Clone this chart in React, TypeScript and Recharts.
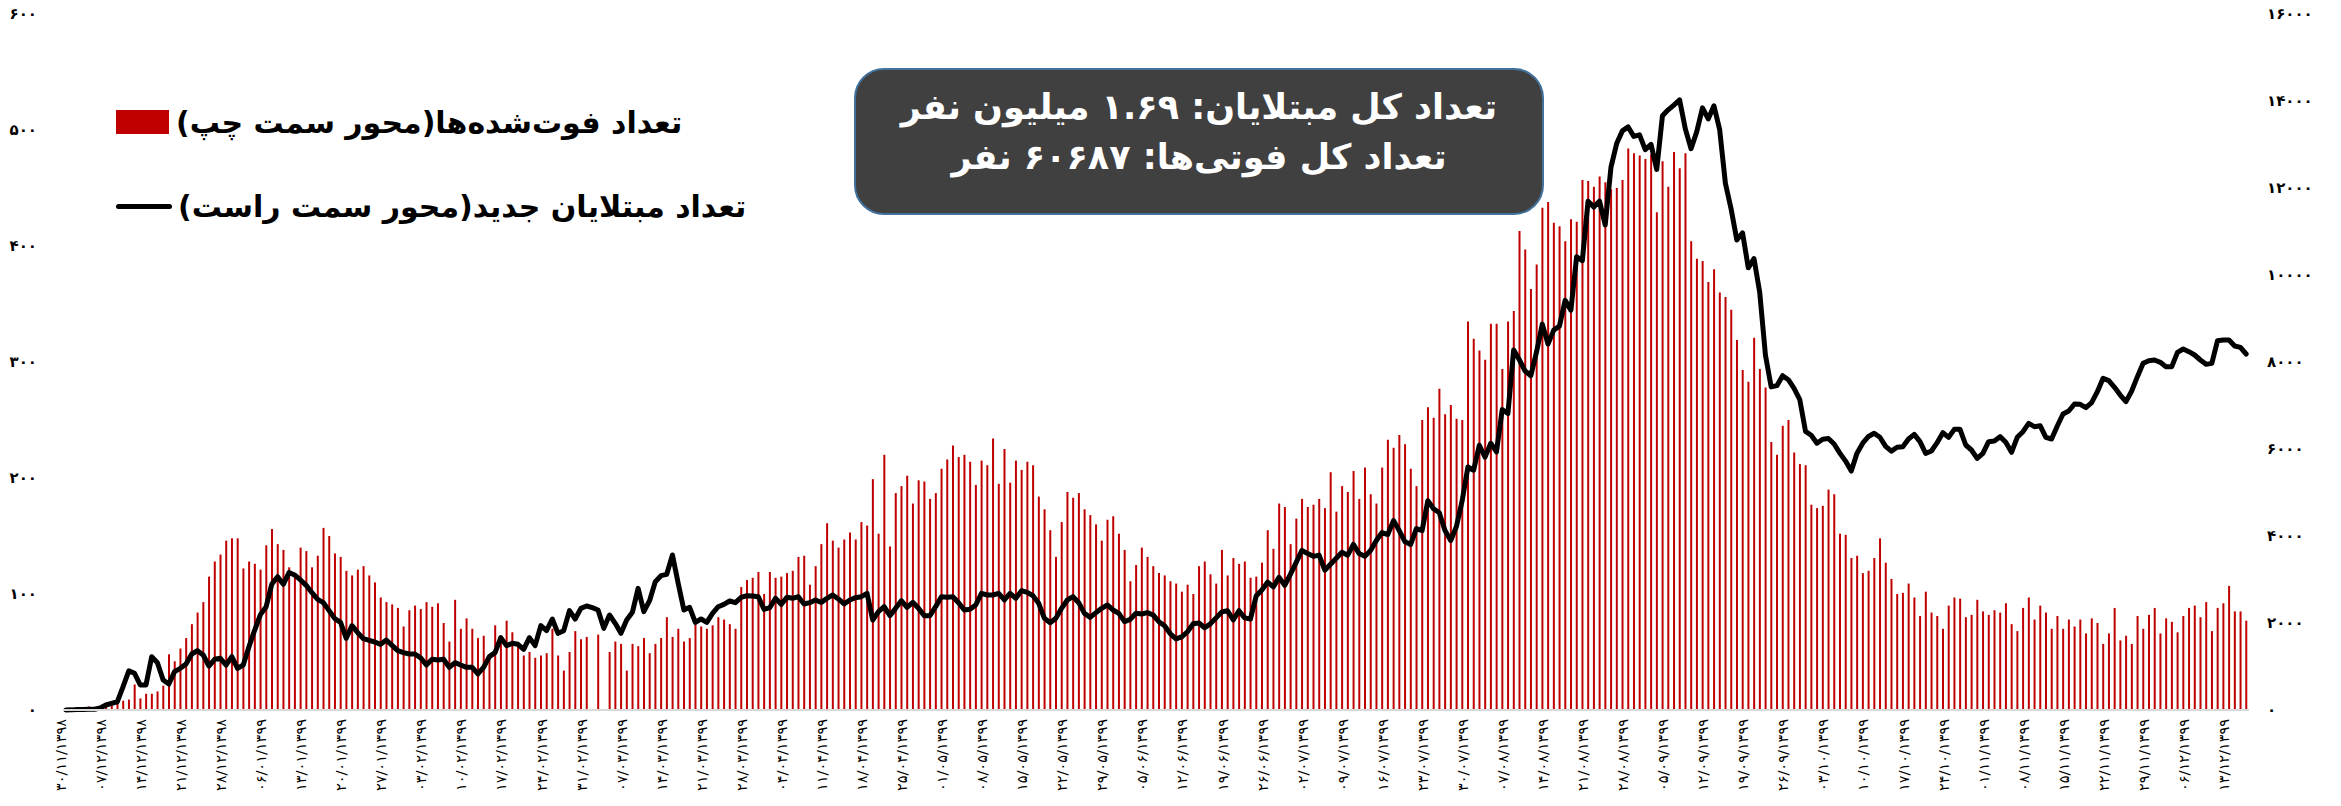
import React from 'react';
import {
  ComposedChart,
  Bar,
  Line,
  XAxis,
  YAxis,
  Legend,
} from 'recharts';

// Daily deaths (left axis), one value per day from 30/11/1398
const deaths: number[] = [
  0, 0, 0, 0, 3, 2, 3, 3, 4, 6, 8, 9, 22, 10, 14, 14, 16, 21, 48, 42,
  53, 62, 74, 84, 93, 115, 128, 134, 146, 148, 148, 122, 128, 126, 121, 142, 156, 143, 138, 123,
  117, 140, 137, 123, 133, 157, 150, 135, 132, 120, 116, 121, 124, 116, 110, 97, 93, 91, 88, 72,
  86, 90, 87, 93, 89, 92, 75, 59, 95, 70, 79, 70, 62, 64, 48, 73, 60, 77, 67, 57,
  47, 50, 45, 47, 49, 70, 47, 34, 50, 68, 61, 63, 0, 65, 0, 50, 59, 57, 34, 57,
  55, 62, 49, 57, 62, 80, 63, 70, 59, 62, 75, 72, 70, 73, 80, 78, 74, 70, 106, 112,
  114, 119, 100, 119, 114, 115, 118, 120, 132, 133, 108, 124, 143, 161, 146, 140, 147, 153, 147, 162,
  159, 199, 152, 220, 141, 187, 193, 202, 178, 198, 197, 182, 187, 208, 216, 228, 218, 220, 214, 194,
  215, 211, 234, 195, 225, 196, 215, 207, 214, 211, 184, 173, 155, 132, 162, 188, 183, 187, 173, 168,
  160, 146, 164, 167, 152, 138, 111, 125, 140, 132, 124, 118, 116, 111, 109, 102, 108, 100, 124, 128,
  117, 109, 138, 116, 131, 126, 128, 114, 115, 127, 155, 139, 178, 175, 143, 165, 182, 175, 177, 182,
  174, 205, 171, 193, 188, 206, 182, 209, 186, 178, 209, 233, 226, 237, 229, 208, 193, 250, 261, 252,
  277, 255, 263, 251, 250, 335, 320, 310, 302, 333, 333, 294, 335, 344, 413, 397, 363, 384, 433, 438,
  420, 417, 404, 423, 421, 457, 456, 451, 460, 455, 449, 450, 457, 484, 480, 478, 475, 479, 429, 473,
  451, 481, 467, 480, 404, 389, 387, 369, 380, 360, 356, 345, 319, 293, 283, 321, 294, 278, 231, 220,
  245, 250, 222, 212, 211, 177, 174, 176, 190, 186, 152, 151, 131, 133, 118, 120, 131, 148, 127, 113,
  100, 101, 109, 97, 81, 102, 84, 81, 70, 90, 97, 96, 80, 82, 95, 85, 82, 86, 84, 92,
  74, 68, 88, 97, 78, 90, 84, 70, 81, 70, 78, 72, 78, 66, 79, 75, 57, 66, 88, 60,
  64, 57, 81, 70, 82, 88, 66, 79, 76, 67, 81, 88, 90, 80, 93, 68, 88, 92, 107, 85,
  85, 77,
];

// Daily new cases (right axis)
const cases: number[] = [
  2, 3, 13, 10, 15, 18, 45, 115, 153, 190, 536, 900, 843, 575, 575, 1226, 1088, 690, 598, 881,
  958, 1057, 1287, 1364, 1264, 1011, 1165, 1188, 1034, 1226, 958, 1034, 1456, 1839, 2192, 2375, 2897, 3065, 2889, 3157,
  3103, 2989, 2866, 2697, 2544, 2467, 2284, 2100, 2015, 1648, 1939, 1778, 1640, 1602, 1563, 1510, 1609, 1487, 1364, 1318,
  1287, 1287, 1200, 1034, 1165, 1149, 1165, 981, 1088, 1034, 981, 981, 828, 981, 1226, 1318, 1663, 1479, 1533, 1510,
  1395, 1663, 1479, 1939, 1824, 2092, 1762, 1824, 2284, 2092, 2337, 2391, 2352, 2299, 1877, 2184, 1992, 1762, 2069, 2245,
  2797, 2261, 2513, 2950, 3088, 3119, 3563, 2912, 2299, 2360, 2015, 2092, 2015, 2222, 2375, 2429, 2506, 2467, 2590, 2628,
  2621, 2605, 2314, 2352, 2567, 2429, 2590, 2567, 2605, 2437, 2467, 2529, 2475, 2567, 2644, 2552, 2437, 2529, 2582, 2605,
  2682, 2069, 2261, 2375, 2169, 2337, 2513, 2360, 2475, 2337, 2169, 2169, 2375, 2605, 2590, 2605, 2467, 2299, 2314, 2414,
  2682, 2644, 2644, 2682, 2529, 2682, 2567, 2743, 2705, 2628, 2452, 2107, 2008, 2107, 2337, 2529, 2605, 2467, 2222, 2130,
  2238, 2337, 2414, 2299, 2222, 2031, 2084, 2222, 2207, 2238, 2184, 2031, 1935, 1753, 1634, 1680, 1799, 1981, 2000, 1890,
  1981, 2118, 2255, 2282, 2072, 2282, 2118, 2091, 2620, 2757, 2939, 2830, 3049, 2866, 3122, 3395, 3669, 3596, 3532, 3560,
  3213, 3350, 3487, 3624, 3560, 3806, 3596, 3532, 3669, 3897, 4080, 4034, 4354, 4125, 3870, 3806, 4171, 4125, 4809, 4627,
  4536, 4125, 3897, 4217, 4809, 5585, 5512, 6087, 5813, 6133, 5932, 6908, 6817, 8277, 8049, 7793, 7684, 8231, 8870, 8414,
  8733, 8824, 9417, 9189, 10421, 10330, 11698, 11561, 11698, 11151, 12474, 13021, 13313, 13404, 13186, 13222, 12884, 13003, 12428, 13660,
  13797, 13906, 14025, 13359, 12903, 13295, 13842, 13587, 13888, 13341, 12109, 11516, 10804, 10968, 10165, 10375, 9600, 8158, 7428, 7456,
  7684, 7592, 7392, 7136, 6406, 6315, 6133, 6224, 6242, 6114, 5905, 5722, 5494, 5905, 6133, 6288, 6361, 6270, 6060, 5950,
  6041, 6054, 6230, 6337, 6169, 5900, 5954, 6146, 6375, 6268, 6452, 6452, 6092, 5977, 5785, 5900, 6169, 6184, 6284, 6153,
  5923, 6268, 6398, 6590, 6513, 6536, 6268, 6230, 6529, 6805, 6874, 7034, 7027, 6950, 7065, 7318, 7625, 7571, 7418, 7241,
  7088, 7333, 7663, 7969, 8031, 8046, 7992, 7893, 7893, 8222, 8299, 8238, 8161, 8046, 7946, 7969, 8490, 8506, 8506, 8368,
  8337, 8184,
];

// one label every 7 days
const tickLabels: string[] = [
  '۳۰/۱۱/۱۳۹۸', '۰۷/۱۲/۱۳۹۸', '۱۴/۱۲/۱۳۹۸', '۲۱/۱۲/۱۳۹۸', '۲۸/۱۲/۱۳۹۸',
  '۰۶/۰۱/۱۳۹۹', '۱۳/۰۱/۱۳۹۹', '۲۰/۰۱/۱۳۹۹', '۲۷/۰۱/۱۳۹۹', '۰۳/۰۲/۱۳۹۹',
  '۱۰/۰۲/۱۳۹۹', '۱۷/۰۲/۱۳۹۹', '۲۴/۰۲/۱۳۹۹', '۳۱/۰۲/۱۳۹۹', '۰۷/۰۳/۱۳۹۹',
  '۱۴/۰۳/۱۳۹۹', '۲۱/۰۳/۱۳۹۹', '۲۸/۰۳/۱۳۹۹', '۰۴/۰۴/۱۳۹۹', '۱۱/۰۴/۱۳۹۹',
  '۱۸/۰۴/۱۳۹۹', '۲۵/۰۴/۱۳۹۹', '۰۱/۰۵/۱۳۹۹', '۰۸/۰۵/۱۳۹۹', '۱۵/۰۵/۱۳۹۹',
  '۲۲/۰۵/۱۳۹۹', '۲۹/۰۵/۱۳۹۹', '۰۵/۰۶/۱۳۹۹', '۱۲/۰۶/۱۳۹۹', '۱۹/۰۶/۱۳۹۹',
  '۲۶/۰۶/۱۳۹۹', '۰۲/۰۷/۱۳۹۹', '۰۹/۰۷/۱۳۹۹', '۱۶/۰۷/۱۳۹۹', '۲۳/۰۷/۱۳۹۹',
  '۳۰/۰۷/۱۳۹۹', '۰۷/۰۸/۱۳۹۹', '۱۴/۰۸/۱۳۹۹', '۲۱/۰۸/۱۳۹۹', '۲۸/۰۸/۱۳۹۹',
  '۰۵/۰۹/۱۳۹۹', '۱۲/۰۹/۱۳۹۹', '۱۹/۰۹/۱۳۹۹', '۲۶/۰۹/۱۳۹۹', '۰۳/۱۰/۱۳۹۹',
  '۱۰/۱۰/۱۳۹۹', '۱۷/۱۰/۱۳۹۹', '۲۴/۱۰/۱۳۹۹', '۰۱/۱۱/۱۳۹۹', '۰۸/۱۱/۱۳۹۹',
  '۱۵/۱۱/۱۳۹۹', '۲۲/۱۱/۱۳۹۹', '۲۹/۱۱/۱۳۹۹', '۰۶/۱۲/۱۳۹۹', '۱۳/۱۲/۱۳۹۹',
];

const leftTicks = [0, 100, 200, 300, 400, 500, 600];
const rightTicks = [0, 2000, 4000, 6000, 8000, 10000, 12000, 14000, 16000];

const deathsName = 'تعداد فوت‌شده‌ها(محور سمت چپ)';
const casesName = 'تعداد مبتلایان جدید(محور سمت راست)';
const boxLine1 = 'تعداد کل مبتلایان: ۱.۶۹ میلیون نفر';
const boxLine2 = 'تعداد کل فوتی‌ها: ۶۰۶۸۷ نفر';

const FA = 'DejaVu Sans';

// western digits -> persian digits
const toFa = (v: number | string): string =>
  String(v).replace(/[0-9]/g, (d) => '۰۱۲۳۴۵۶۷۸۹'[Number(d)]);

const chartData = deaths.map((d, i) => ({ day: i, deaths: d, cases: cases[i] }));

const DateTick = ({ x, y, payload }: any) => {
  const label = tickLabels[Math.round(payload.value / 7)] ?? '';
  return (
    <text
      x={x}
      y={y}
      transform={`rotate(-90 ${x} ${y})`}
      textAnchor="end"
      fontSize={14.5}
      fontFamily={FA}
      fill="#000"
    >
      {label}
    </text>
  );
};

const renderLegend = () => (
  <div style={{ fontFamily: FA, fontWeight: 'bold', fontSize: 30, color: '#000', whiteSpace: 'nowrap' }}>
    <div style={{ display: 'flex', alignItems: 'center', height: 40 }}>
      <span style={{ display: 'inline-block', width: 53, height: 24, background: '#C00000', marginRight: 7 }} />
      <span dir="rtl">{deathsName}</span>
    </div>
    <div style={{ display: 'flex', alignItems: 'center', height: 40, marginTop: 44 }}>
      <span style={{ display: 'inline-block', width: 56, height: 5, background: '#000', borderRadius: 3, marginRight: 6 }} />
      <span dir="rtl">{casesName}</span>
    </div>
  </div>
);

export default function App() {
  return (
    <div style={{ position: 'absolute', left: 0, top: 0, width: 2341, height: 806, background: '#fff' }}>
      <ComposedChart
        width={2341}
        height={806}
        data={chartData}
        margin={{ top: 14, right: 0, bottom: 0, left: 0 }}
      >
        <XAxis
          dataKey="day"
          type="category"
          interval={6}
          height={96}
          tickLine={false}
          axisLine={{ stroke: '#d9d9d9', strokeWidth: 2 }}
          tick={<DateTick />}
          tickMargin={3}
        />
        <YAxis
          yAxisId="left"
          orientation="left"
          width={63}
          domain={[0, 600]}
          ticks={leftTicks}
          axisLine={false}
          tickLine={false}
          tickFormatter={toFa}
          tick={{ fontSize: 15, fontFamily: FA, fill: '#000', fontWeight: 'bold' }}
          tickMargin={20}
        />
        <YAxis
          yAxisId="right"
          orientation="right"
          width={92}
          domain={[0, 16000]}
          ticks={rightTicks}
          axisLine={false}
          tickLine={false}
          tickFormatter={toFa}
          tick={{ fontSize: 15, fontFamily: FA, fill: '#000', fontWeight: 'bold' }}
          tickMargin={12}
        />
        <Legend
          layout="vertical"
          align="center"
          verticalAlign="middle"
          content={renderLegend}
          wrapperStyle={{ position: 'absolute', left: 116, top: 102, width: 720, height: 130 }}
        />
        <Bar
          yAxisId="left"
          dataKey="deaths"
          name={deathsName}
          fill="#C00000"
          barSize={2}
          isAnimationActive={false}
        />
        <Line
          yAxisId="right"
          dataKey="cases"
          name={casesName}
          type="linear"
          stroke="#000"
          strokeWidth={5}
          strokeLinejoin="round"
          strokeLinecap="round"
          dot={false}
          activeDot={false}
          isAnimationActive={false}
        />
      </ComposedChart>
      <div
        style={{
          position: 'absolute',
          left: 854,
          top: 68,
          width: 690,
          height: 147,
          boxSizing: 'border-box',
          background: '#404040',
          border: '2.5px solid #41719c',
          borderRadius: 30,
          color: '#fff',
          fontFamily: FA,
          fontWeight: 'bold',
          fontSize: 35,
          lineHeight: '50px',
          paddingBottom: 20,
          textAlign: 'center',
          display: 'flex',
          flexDirection: 'column',
          justifyContent: 'center',
        }}
        dir="rtl"
      >
        <div>{boxLine1}</div>
        <div>{boxLine2}</div>
      </div>
    </div>
  );
}
